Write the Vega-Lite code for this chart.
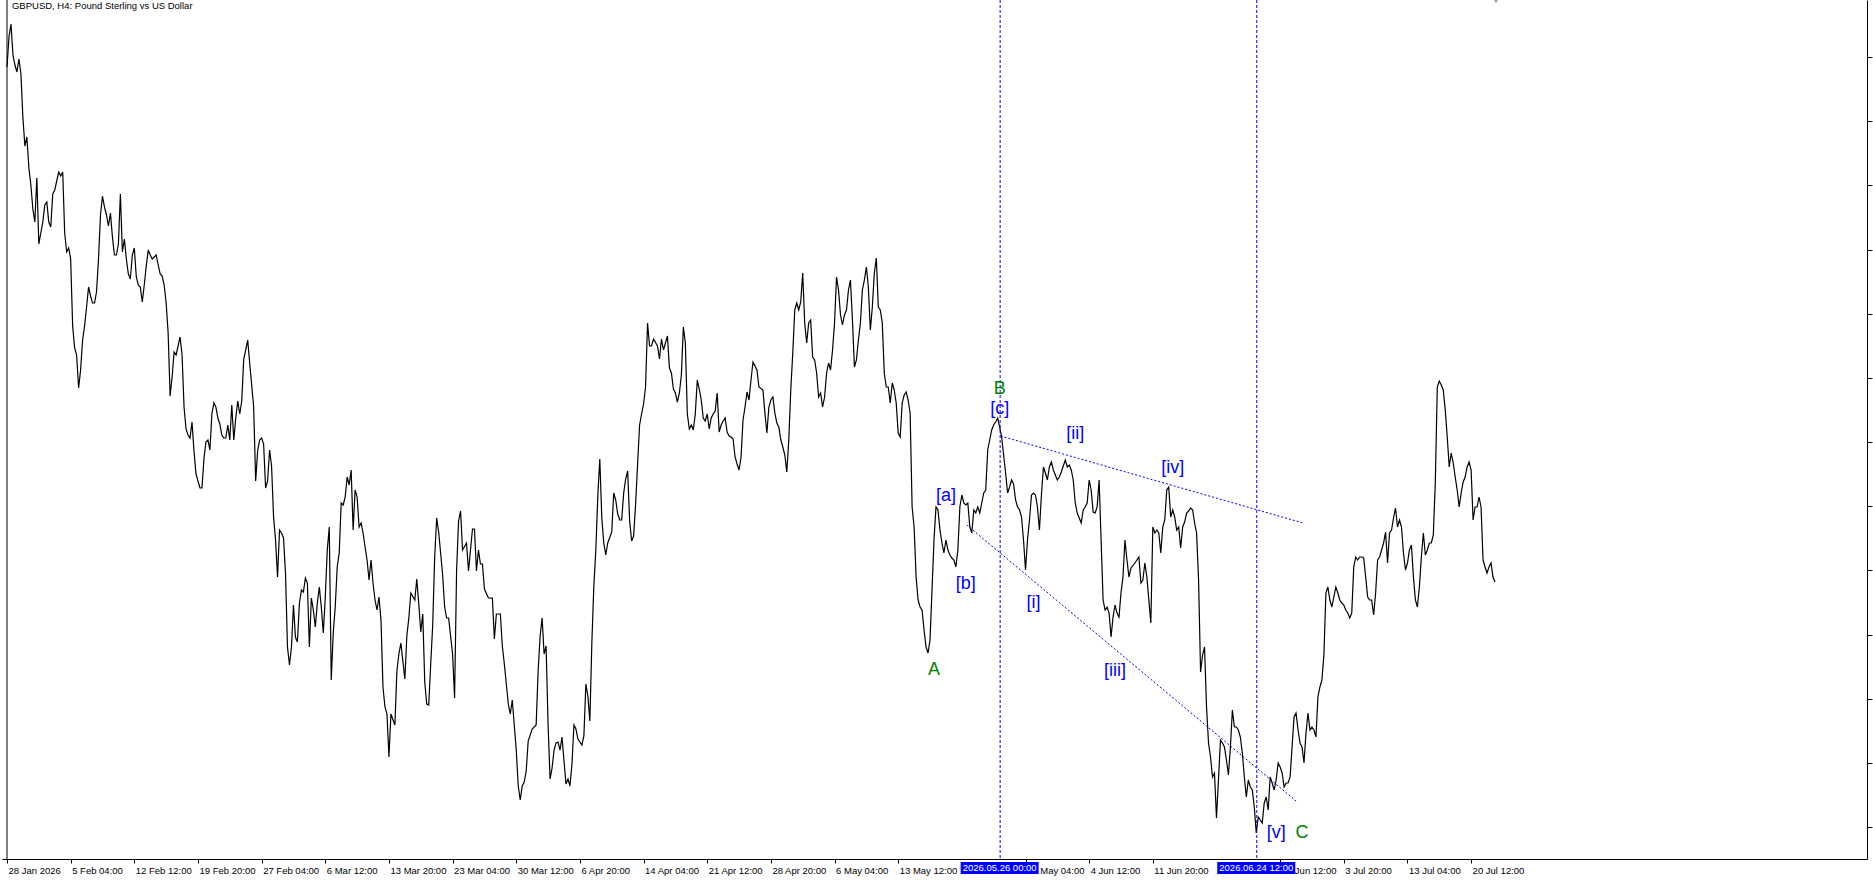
{
"$schema": "https://vega.github.io/schema/vega-lite/v6.json",
"width": 1865,
"height": 859,
"autosize": {"type": "none"},
"padding": {"left": 2, "top": 0, "right": 6, "bottom": 21},
"background": "white",
"config": {"view": {"stroke": null}, "font": "Liberation Sans"},
"datasets": {
"price": [
{"i":0,"p":1.3933},{"i":1,"p":1.3963},{"i":2,"p":1.3976},{"i":3,"p":1.3945},{"i":4,"p":1.3935},{"i":5,"p":1.3928},{"i":6,"p":1.3941},{"i":7,"p":1.3926},{"i":8,"p":1.3882},{"i":9,"p":1.3854},
{"i":10,"p":1.3863},{"i":11,"p":1.3832},{"i":12,"p":1.3815},{"i":13,"p":1.3791},{"i":14,"p":1.3778},{"i":15,"p":1.3822},{"i":16,"p":1.3756},{"i":17,"p":1.3767},{"i":18,"p":1.3778},{"i":19,"p":1.3795},
{"i":20,"p":1.3798},{"i":21,"p":1.3778},{"i":22,"p":1.3773},{"i":23,"p":1.3806},{"i":24,"p":1.381},{"i":25,"p":1.3819},{"i":26,"p":1.3828},{"i":27,"p":1.3824},{"i":28,"p":1.3828},{"i":29,"p":1.3767},
{"i":30,"p":1.3748},{"i":31,"p":1.3752},{"i":32,"p":1.3741},{"i":33,"p":1.3674},{"i":34,"p":1.3652},{"i":35,"p":1.3645},{"i":36,"p":1.3612},{"i":37,"p":1.363},{"i":38,"p":1.366},{"i":39,"p":1.3674},
{"i":40,"p":1.3693},{"i":41,"p":1.3713},{"i":42,"p":1.3704},{"i":43,"p":1.3697},{"i":44,"p":1.3697},{"i":45,"p":1.3708},{"i":46,"p":1.3741},{"i":47,"p":1.3785},{"i":48,"p":1.3804},{"i":49,"p":1.3793},
{"i":50,"p":1.3785},{"i":51,"p":1.3774},{"i":52,"p":1.3787},{"i":53,"p":1.3763},{"i":54,"p":1.3745},{"i":55,"p":1.3745},{"i":56,"p":1.3756},{"i":57,"p":1.3806},{"i":58,"p":1.3748},{"i":59,"p":1.3761},
{"i":60,"p":1.3741},{"i":61,"p":1.3726},{"i":62,"p":1.3721},{"i":63,"p":1.3745},{"i":64,"p":1.3752},{"i":65,"p":1.3723},{"i":66,"p":1.3715},{"i":67,"p":1.3713},{"i":68,"p":1.3698},{"i":69,"p":1.3715},
{"i":70,"p":1.3734},{"i":71,"p":1.375},{"i":72,"p":1.3745},{"i":73,"p":1.3741},{"i":74,"p":1.3743},{"i":75,"p":1.3745},{"i":76,"p":1.3735},{"i":77,"p":1.3726},{"i":78,"p":1.3724},{"i":79,"p":1.3715},
{"i":80,"p":1.3697},{"i":81,"p":1.3667},{"i":82,"p":1.3604},{"i":83,"p":1.3623},{"i":84,"p":1.3648},{"i":85,"p":1.3645},{"i":86,"p":1.3654},{"i":87,"p":1.3663},{"i":88,"p":1.3645},{"i":89,"p":1.3593},
{"i":90,"p":1.3571},{"i":91,"p":1.3565},{"i":92,"p":1.3562},{"i":93,"p":1.3578},{"i":94,"p":1.3549},{"i":95,"p":1.3526},{"i":96,"p":1.3519},{"i":97,"p":1.3512},{"i":98,"p":1.3512},{"i":99,"p":1.3541},
{"i":100,"p":1.3558},{"i":101,"p":1.356},{"i":102,"p":1.355},{"i":103,"p":1.3586},{"i":104,"p":1.3597},{"i":105,"p":1.3593},{"i":106,"p":1.3582},{"i":107,"p":1.3576},{"i":108,"p":1.3565},{"i":109,"p":1.3562},
{"i":110,"p":1.3562},{"i":111,"p":1.3575},{"i":112,"p":1.356},{"i":113,"p":1.3595},{"i":114,"p":1.356},{"i":115,"p":1.3582},{"i":116,"p":1.3599},{"i":117,"p":1.3586},{"i":118,"p":1.3599},{"i":119,"p":1.3641},
{"i":120,"p":1.365},{"i":121,"p":1.366},{"i":122,"p":1.3637},{"i":123,"p":1.3615},{"i":124,"p":1.3593},{"i":125,"p":1.3519},{"i":126,"p":1.3549},{"i":127,"p":1.356},{"i":128,"p":1.3562},{"i":129,"p":1.3556},
{"i":130,"p":1.3512},{"i":131,"p":1.3519},{"i":132,"p":1.355},{"i":133,"p":1.3534},{"i":134,"p":1.3483},{"i":135,"p":1.346},{"i":136,"p":1.3423},{"i":137,"p":1.347},{"i":138,"p":1.3467},{"i":139,"p":1.3462},
{"i":140,"p":1.3427},{"i":141,"p":1.3353},{"i":142,"p":1.3335},{"i":143,"p":1.3353},{"i":144,"p":1.3395},{"i":145,"p":1.3363},{"i":146,"p":1.3358},{"i":147,"p":1.3397},{"i":148,"p":1.341},{"i":149,"p":1.3408},
{"i":150,"p":1.3422},{"i":151,"p":1.3417},{"i":152,"p":1.3353},{"i":153,"p":1.3402},{"i":154,"p":1.339},{"i":155,"p":1.3373},{"i":156,"p":1.3397},{"i":157,"p":1.3413},{"i":158,"p":1.3393},{"i":159,"p":1.3367},
{"i":160,"p":1.3403},{"i":161,"p":1.345},{"i":162,"p":1.3473},{"i":163,"p":1.332},{"i":164,"p":1.3367},{"i":165,"p":1.3393},{"i":166,"p":1.3433},{"i":167,"p":1.3447},{"i":168,"p":1.3497},{"i":169,"p":1.3495},
{"i":170,"p":1.3503},{"i":171,"p":1.3523},{"i":172,"p":1.3515},{"i":173,"p":1.353},{"i":174,"p":1.347},{"i":175,"p":1.351},{"i":176,"p":1.3503},{"i":177,"p":1.3473},{"i":178,"p":1.3477},{"i":179,"p":1.3467},
{"i":180,"p":1.3453},{"i":181,"p":1.344},{"i":182,"p":1.342},{"i":183,"p":1.344},{"i":184,"p":1.3417},{"i":185,"p":1.34},{"i":186,"p":1.339},{"i":187,"p":1.3403},{"i":188,"p":1.338},{"i":189,"p":1.3313},
{"i":190,"p":1.3293},{"i":191,"p":1.3286},{"i":192,"p":1.3243},{"i":193,"p":1.3286},{"i":195,"p":1.3275},{"i":196,"p":1.3329},{"i":197,"p":1.3346},{"i":198,"p":1.3357},
{"i":200,"p":1.3321},{"i":201,"p":1.3364},{"i":202,"p":1.3382},{"i":203,"p":1.3407},{"i":205,"p":1.34},{"i":206,"p":1.3421},{"i":207,"p":1.3396},{"i":208,"p":1.3368},{"i":209,"p":1.3386},
{"i":210,"p":1.3318},{"i":211,"p":1.3296},{"i":212,"p":1.3295},{"i":213,"p":1.3336},{"i":214,"p":1.3375},{"i":215,"p":1.3443},{"i":216,"p":1.3482},{"i":217,"p":1.3468},{"i":219,"p":1.3425},
{"i":220,"p":1.3393},{"i":221,"p":1.3382},{"i":222,"p":1.3382},{"i":224,"p":1.3346},{"i":225,"p":1.3302},{"i":226,"p":1.3429},{"i":227,"p":1.3479},{"i":228,"p":1.3489},{"i":229,"p":1.345},
{"i":231,"p":1.3457},{"i":232,"p":1.3429},{"i":233,"p":1.345},{"i":234,"p":1.3471},{"i":235,"p":1.3471},{"i":236,"p":1.3429},{"i":237,"p":1.345},{"i":238,"p":1.3436},{"i":239,"p":1.3436},
{"i":240,"p":1.3411},{"i":242,"p":1.3402},{"i":244,"p":1.3402},{"i":245,"p":1.3361},{"i":246,"p":1.3386},{"i":248,"p":1.3386},{"i":249,"p":1.3354},
{"i":250,"p":1.3336},{"i":252,"p":1.3296},{"i":253,"p":1.3286},{"i":254,"p":1.33},{"i":255,"p":1.3275},{"i":256,"p":1.325},{"i":257,"p":1.3214},{"i":258,"p":1.32},{"i":259,"p":1.3214},
{"i":260,"p":1.3218},{"i":261,"p":1.3229},{"i":262,"p":1.3259},{"i":264,"p":1.3271},{"i":266,"p":1.3275},{"i":267,"p":1.3329},{"i":268,"p":1.3364},{"i":269,"p":1.3382},
{"i":270,"p":1.3346},{"i":271,"p":1.3354},{"i":272,"p":1.3275},{"i":273,"p":1.3221},{"i":274,"p":1.3232},{"i":275,"p":1.325},{"i":276,"p":1.3257},{"i":277,"p":1.3258},{"i":278,"p":1.325},{"i":279,"p":1.3263},
{"i":280,"p":1.3239},{"i":281,"p":1.3216},{"i":282,"p":1.3221},{"i":283,"p":1.3214},{"i":284,"p":1.3236},{"i":285,"p":1.3275},{"i":286,"p":1.3271},{"i":287,"p":1.3261},{"i":289,"p":1.3255},
{"i":290,"p":1.3264},{"i":291,"p":1.3316},{"i":292,"p":1.3304},{"i":293,"p":1.3279},{"i":294,"p":1.3357},{"i":295,"p":1.3414},{"i":296,"p":1.345},{"i":297,"p":1.3504},{"i":298,"p":1.3541},{"i":299,"p":1.3482},
{"i":300,"p":1.3457},{"i":301,"p":1.3445},{"i":302,"p":1.3457},{"i":304,"p":1.3468},{"i":305,"p":1.3507},{"i":306,"p":1.35},{"i":307,"p":1.3486},{"i":308,"p":1.348},{"i":309,"p":1.348},
{"i":310,"p":1.3507},{"i":311,"p":1.3521},{"i":312,"p":1.3529},{"i":313,"p":1.3479},{"i":314,"p":1.3459},{"i":315,"p":1.3464},{"i":316,"p":1.3496},{"i":317,"p":1.3536},{"i":318,"p":1.3575},{"i":319,"p":1.3586},
{"i":320,"p":1.3596},{"i":321,"p":1.3613},{"i":322,"p":1.3677},{"i":323,"p":1.3654},{"i":324,"p":1.3654},{"i":325,"p":1.3661},{"i":327,"p":1.3654},{"i":328,"p":1.3641},{"i":329,"p":1.3661},
{"i":330,"p":1.365},{"i":332,"p":1.3664},{"i":333,"p":1.3632},{"i":334,"p":1.3627},{"i":335,"p":1.3611},{"i":336,"p":1.3607},{"i":337,"p":1.3598},{"i":338,"p":1.3607},{"i":339,"p":1.3625},
{"i":340,"p":1.3673},{"i":341,"p":1.3657},{"i":342,"p":1.3586},{"i":343,"p":1.3571},{"i":344,"p":1.3575},{"i":345,"p":1.357},{"i":346,"p":1.3586},{"i":347,"p":1.362},{"i":348,"p":1.3611},{"i":349,"p":1.36},
{"i":350,"p":1.3582},{"i":351,"p":1.3579},{"i":352,"p":1.3586},{"i":353,"p":1.3571},{"i":354,"p":1.3582},{"i":355,"p":1.3586},{"i":356,"p":1.3589},{"i":357,"p":1.3607},{"i":358,"p":1.3568},{"i":359,"p":1.3575},
{"i":360,"p":1.3579},{"i":361,"p":1.3582},{"i":362,"p":1.3568},{"i":363,"p":1.3564},{"i":364,"p":1.3563},{"i":365,"p":1.3561},{"i":366,"p":1.3543},{"i":367,"p":1.3536},{"i":368,"p":1.353},{"i":369,"p":1.3543},
{"i":370,"p":1.358},{"i":371,"p":1.3593},{"i":372,"p":1.3608},{"i":373,"p":1.36},{"i":374,"p":1.362},{"i":375,"p":1.3638},{"i":377,"p":1.363},{"i":378,"p":1.3613},
{"i":380,"p":1.361},{"i":381,"p":1.3587},{"i":382,"p":1.3567},{"i":383,"p":1.3593},{"i":384,"p":1.36},{"i":385,"p":1.3603},{"i":386,"p":1.3587},{"i":387,"p":1.3577},{"i":388,"p":1.3573},{"i":389,"p":1.356},
{"i":390,"p":1.3553},{"i":391,"p":1.3545},{"i":392,"p":1.3528},{"i":393,"p":1.356},{"i":394,"p":1.361},{"i":395,"p":1.3647},{"i":396,"p":1.369},{"i":397,"p":1.3697},{"i":398,"p":1.369},{"i":399,"p":1.3698},
{"i":400,"p":1.3727},{"i":401,"p":1.3677},{"i":402,"p":1.3657},{"i":403,"p":1.3677},{"i":404,"p":1.368},{"i":405,"p":1.3643},{"i":406,"p":1.364},{"i":407,"p":1.3627},{"i":408,"p":1.3603},{"i":409,"p":1.3607},
{"i":410,"p":1.3593},{"i":411,"p":1.3603},{"i":412,"p":1.3627},{"i":413,"p":1.3637},{"i":414,"p":1.363},{"i":415,"p":1.365},{"i":416,"p":1.3677},{"i":417,"p":1.3723},{"i":418,"p":1.371},{"i":419,"p":1.3685},
{"i":420,"p":1.3675},{"i":421,"p":1.3685},{"i":422,"p":1.369},{"i":423,"p":1.371},{"i":424,"p":1.372},{"i":425,"p":1.368},{"i":426,"p":1.3633},{"i":427,"p":1.364},{"i":428,"p":1.366},{"i":429,"p":1.3677},
{"i":430,"p":1.371},{"i":431,"p":1.372},{"i":432,"p":1.3733},{"i":433,"p":1.3713},{"i":434,"p":1.367},{"i":435,"p":1.3693},{"i":436,"p":1.3727},{"i":437,"p":1.3742},{"i":438,"p":1.3693},{"i":439,"p":1.369},
{"i":440,"p":1.3677},{"i":441,"p":1.3627},{"i":442,"p":1.3613},{"i":443,"p":1.3613},{"i":444,"p":1.3597},{"i":445,"p":1.3617},{"i":446,"p":1.361},{"i":447,"p":1.3597},{"i":448,"p":1.3567},{"i":449,"p":1.3563},
{"i":450,"p":1.3597},{"i":451,"p":1.3605},{"i":452,"p":1.3608},{"i":453,"p":1.36},{"i":454,"p":1.3587},{"i":455,"p":1.3493},{"i":456,"p":1.3473},{"i":457,"p":1.3423},{"i":458,"p":1.34},{"i":459,"p":1.3393},
{"i":460,"p":1.339},{"i":461,"p":1.337},{"i":462,"p":1.3353},{"i":463,"p":1.3347},{"i":464,"p":1.336},{"i":465,"p":1.341},{"i":466,"p":1.346},{"i":467,"p":1.3493},{"i":468,"p":1.349},{"i":469,"p":1.347},
{"i":470,"p":1.3457},{"i":471,"p":1.3447},{"i":472,"p":1.346},{"i":473,"p":1.345},{"i":474,"p":1.3445},{"i":475,"p":1.3442},{"i":476,"p":1.344},{"i":477,"p":1.3433},{"i":478,"p":1.345},{"i":479,"p":1.3493},
{"i":480,"p":1.3505},{"i":481,"p":1.3497},{"i":482,"p":1.3495},{"i":483,"p":1.3497},{"i":484,"p":1.3473},{"i":485,"p":1.3467},{"i":486,"p":1.349},{"i":487,"p":1.3487},{"i":488,"p":1.3493},{"i":489,"p":1.3487},
{"i":490,"p":1.3497},{"i":491,"p":1.3507},{"i":492,"p":1.351},{"i":493,"p":1.355},{"i":494,"p":1.356},{"i":495,"p":1.357},{"i":496,"p":1.3575},{"i":497,"p":1.3578},{"i":498,"p":1.3582},{"i":499,"p":1.3573},
{"i":500,"p":1.3563},{"i":501,"p":1.3545},{"i":502,"p":1.3527},{"i":503,"p":1.3507},{"i":504,"p":1.3513},{"i":505,"p":1.352},{"i":506,"p":1.3516},{"i":507,"p":1.35},{"i":508,"p":1.3493},{"i":509,"p":1.349},
{"i":510,"p":1.3483},{"i":511,"p":1.346},{"i":512,"p":1.343},{"i":513,"p":1.346},{"i":514,"p":1.348},{"i":515,"p":1.3505},{"i":516,"p":1.3507},{"i":517,"p":1.3505},{"i":518,"p":1.3493},{"i":519,"p":1.347},
{"i":520,"p":1.3505},{"i":521,"p":1.3533},{"i":522,"p":1.3527},{"i":523,"p":1.352},{"i":524,"p":1.3533},{"i":525,"p":1.3538},{"i":526,"p":1.353},{"i":527,"p":1.3525},{"i":528,"p":1.352},{"i":529,"p":1.3523},
{"i":530,"p":1.3528},{"i":531,"p":1.3534},{"i":532,"p":1.354},{"i":533,"p":1.3533},{"i":534,"p":1.3535},{"i":535,"p":1.353},{"i":536,"p":1.352},{"i":537,"p":1.3497},{"i":538,"p":1.3487},{"i":539,"p":1.3482},
{"i":540,"p":1.3477},{"i":541,"p":1.349},{"i":542,"p":1.3493},{"i":543,"p":1.3497},{"i":544,"p":1.352},{"i":545,"p":1.351},{"i":546,"p":1.3488},{"i":547,"p":1.3487},{"i":548,"p":1.3493},{"i":549,"p":1.352},
{"i":550,"p":1.346},{"i":551,"p":1.34},{"i":552,"p":1.339},{"i":553,"p":1.3393},{"i":554,"p":1.3387},{"i":555,"p":1.3363},{"i":556,"p":1.3383},{"i":557,"p":1.3395},{"i":558,"p":1.3387},{"i":559,"p":1.3383},
{"i":560,"p":1.3407},{"i":561,"p":1.3423},{"i":562,"p":1.346},{"i":563,"p":1.344},{"i":564,"p":1.3423},{"i":565,"p":1.3432},{"i":567,"p":1.3437},{"i":568,"p":1.344},{"i":569,"p":1.3443},
{"i":570,"p":1.3417},{"i":571,"p":1.342},{"i":572,"p":1.3437},{"i":573,"p":1.3423},{"i":574,"p":1.34},{"i":575,"p":1.3377},{"i":576,"p":1.3473},{"i":577,"p":1.3467},{"i":578,"p":1.347},{"i":579,"p":1.3467},
{"i":580,"p":1.3447},{"i":581,"p":1.3473},{"i":582,"p":1.348},{"i":583,"p":1.351},{"i":584,"p":1.3513},{"i":585,"p":1.3483},{"i":586,"p":1.349},{"i":587,"p":1.3483},{"i":588,"p":1.347},{"i":589,"p":1.3473},
{"i":590,"p":1.3452},{"i":591,"p":1.3473},{"i":592,"p":1.3478},{"i":593,"p":1.3487},{"i":594,"p":1.3489},{"i":595,"p":1.3492},{"i":596,"p":1.349},{"i":597,"p":1.3477},{"i":598,"p":1.3467},{"i":599,"p":1.342},
{"i":600,"p":1.3328},{"i":601,"p":1.3345},{"i":602,"p":1.3353},{"i":603,"p":1.3293},{"i":604,"p":1.3257},{"i":605,"p":1.3243},{"i":606,"p":1.3223},{"i":607,"p":1.3227},{"i":608,"p":1.3182},{"i":609,"p":1.322},
{"i":610,"p":1.326},{"i":611,"p":1.3257},{"i":612,"p":1.3253},{"i":613,"p":1.324},{"i":614,"p":1.3225},{"i":615,"p":1.3253},{"i":616,"p":1.329},{"i":617,"p":1.3273},{"i":618,"p":1.3273},{"i":619,"p":1.327},
{"i":620,"p":1.3263},{"i":621,"p":1.3247},{"i":622,"p":1.3223},{"i":623,"p":1.3203},{"i":624,"p":1.322},{"i":625,"p":1.3213},{"i":626,"p":1.321},{"i":627,"p":1.3193},{"i":628,"p":1.3167},{"i":629,"p":1.3183},
{"i":630,"p":1.318},{"i":631,"p":1.3177},{"i":632,"p":1.3197},{"i":633,"p":1.3203},{"i":634,"p":1.319},{"i":635,"p":1.3223},{"i":636,"p":1.3217},{"i":637,"p":1.321},{"i":638,"p":1.322},{"i":639,"p":1.3237},
{"i":640,"p":1.3233},{"i":641,"p":1.3227},{"i":642,"p":1.3213},{"i":643,"p":1.3217},{"i":644,"p":1.3217},{"i":645,"p":1.3223},{"i":646,"p":1.3253},{"i":647,"p":1.3283},{"i":648,"p":1.3287},{"i":649,"p":1.327},
{"i":650,"p":1.3257},{"i":651,"p":1.3253},{"i":652,"p":1.3237},{"i":653,"p":1.3267},{"i":654,"p":1.3287},{"i":655,"p":1.327},{"i":656,"p":1.3273},{"i":657,"p":1.327},{"i":658,"p":1.3263},{"i":659,"p":1.3303},
{"i":660,"p":1.3313},{"i":661,"p":1.332},{"i":662,"p":1.3345},{"i":663,"p":1.3407},{"i":664,"p":1.3413},{"i":665,"p":1.34},{"i":666,"p":1.3393},{"i":667,"p":1.3403},{"i":668,"p":1.3413},{"i":669,"p":1.3407},
{"i":670,"p":1.34},{"i":671,"p":1.3397},{"i":672,"p":1.3395},{"i":673,"p":1.339},{"i":674,"p":1.3387},{"i":675,"p":1.3382},{"i":676,"p":1.3387},{"i":677,"p":1.3433},{"i":678,"p":1.3443},{"i":679,"p":1.344},
{"i":680,"p":1.3443},{"i":681,"p":1.3443},{"i":682,"p":1.3442},{"i":683,"p":1.3423},{"i":684,"p":1.3403},{"i":685,"p":1.34},{"i":686,"p":1.34},{"i":687,"p":1.3385},{"i":688,"p":1.3407},{"i":689,"p":1.344},
{"i":690,"p":1.3443},{"i":691,"p":1.345},{"i":692,"p":1.3457},{"i":693,"p":1.3468},{"i":694,"p":1.3437},{"i":695,"p":1.3467},{"i":696,"p":1.347},{"i":697,"p":1.3482},{"i":698,"p":1.3492},{"i":699,"p":1.3473},
{"i":700,"p":1.348},{"i":701,"p":1.3473},{"i":702,"p":1.3447},{"i":703,"p":1.343},{"i":704,"p":1.3437},{"i":705,"p":1.345},{"i":706,"p":1.3455},{"i":707,"p":1.3423},{"i":708,"p":1.34},{"i":709,"p":1.3393},
{"i":710,"p":1.3413},{"i":711,"p":1.3443},{"i":712,"p":1.3467},{"i":713,"p":1.3445},{"i":714,"p":1.345},{"i":715,"p":1.3457},{"i":716,"p":1.3457},{"i":717,"p":1.3465},{"i":718,"p":1.3517},{"i":719,"p":1.3613},
{"i":720,"p":1.3619},{"i":721,"p":1.3615},{"i":722,"p":1.361},{"i":723,"p":1.359},{"i":724,"p":1.3563},{"i":725,"p":1.3533},{"i":726,"p":1.3547},{"i":727,"p":1.3537},{"i":728,"p":1.3523},{"i":729,"p":1.351},
{"i":730,"p":1.3493},{"i":731,"p":1.3507},{"i":732,"p":1.3518},{"i":733,"p":1.3523},{"i":734,"p":1.3533},{"i":735,"p":1.3538},{"i":736,"p":1.353},{"i":737,"p":1.348},{"i":738,"p":1.3493},{"i":739,"p":1.3493},
{"i":740,"p":1.3503},{"i":741,"p":1.3493},{"i":742,"p":1.344},{"i":743,"p":1.3433},{"i":744,"p":1.3427},{"i":745,"p":1.3433},{"i":746,"p":1.3437},{"i":747,"p":1.3423},{"i":748,"p":1.3418}
],
"waves": [
{"i":466,"p":1.333,"t":"A","g":"major"},
{"i":499,"p":1.3611,"t":"B","g":"major"},
{"i":651,"p":1.3167,"t":"C","g":"major"},
{"i":472,"p":1.3504,"t":"[a]","g":"minor"},
{"i":482,"p":1.3416,"t":"[b]","g":"minor"},
{"i":499,"p":1.3591,"t":"[c]","g":"minor"},
{"i":516,"p":1.3397,"t":"[i]","g":"minor"},
{"i":537,"p":1.3566,"t":"[ii]","g":"minor"},
{"i":557,"p":1.3329,"t":"[iii]","g":"minor"},
{"i":586,"p":1.3532,"t":"[iv]","g":"minor"},
{"i":638,"p":1.3167,"t":"[v]","g":"minor"}
],
"trend": [
{"i":499.5,"p":1.3564,"i2":651.5,"p2":1.3477},
{"i":482.5,"p":1.3475,"i2":648,"p2":1.3199}
],
"vlines": [
{"i":499,"label":"2026.05.26 00:00"},
{"i":628,"label":"2026.06.24 12:00"}
],
"header": [
{"i":2.5,"p":1.4,"label":"GBPUSD, H4:  Pound Sterling vs US Dollar"}
],
"shift": [
{"i":748.5,"p":1.4}
]
},
"layer": [
{
"data": {"name": "price"},
"mark": {"type": "line", "color": "black", "strokeWidth": 1.2},
"encoding": {
"x": {"field": "i", "type": "quantitative", "title": null,
"scale": {"domain": [0, 932.5], "nice": false, "zero": false},
"axis": {"orient": "bottom", "values": [0,32,64,96,128,160,192,224,256,288,320,352,384,416,448,512,544,576,640,672,704,736],
"labelExpr": "['28 Jan 2026','5 Feb 04:00','12 Feb 12:00','19 Feb 20:00','27 Feb 04:00','6 Mar 12:00','13 Mar 20:00','23 Mar 04:00','30 Mar 12:00','6 Apr 20:00','14 Apr 04:00','21 Apr 12:00','28 Apr 20:00','6 May 04:00','13 May 12:00','20 May 20:00','28 May 04:00','4 Jun 12:00','11 Jun 20:00','19 Jun 04:00','26 Jun 12:00','3 Jul 20:00','13 Jul 04:00','20 Jul 12:00'][round(datum.value/32)]",
"grid": false, "domainColor": "black", "tickColor": "black", "tickSize": 4, "labelColor": "black",
"labelFont": "Liberation Sans", "labelFontSize": 9.5, "labelAlign": "left", "labelOffset": 1, "labelPadding": 2,
"labelOverlap": false, "labelFlush": false, "labelBound": false, "title": null}},
"y": {"field": "p", "type": "quantitative", "title": null,
"scale": {"domain": [1.3141, 1.4], "nice": false, "zero": false},
"axis": {"orient": "right", "values": [1.3975,1.39429,1.39108,1.38788,1.38467,1.38146,1.37825,1.37504,1.37184,1.36863,1.36542,1.36221,1.359,1.3558,1.35259,1.34938,1.34617,1.34296,1.33976,1.33655,1.33334,1.33013,1.32692,1.32372,1.32051,1.3173],
"labels": false, "grid": false, "domainColor": "black", "tickColor": "black", "tickSize": 5, "title": null}}
}
},
{
"data": {"name": "shift"},
"mark": {"type": "rule", "color": "black", "strokeWidth": 1},
"encoding": {"x": {"datum": 0}}
},
{
"data": {"name": "trend"},
"mark": {"type": "rule", "color": "#0000FF", "strokeWidth": 1, "strokeDash": [2, 2]},
"encoding": {
"x": {"field": "i", "type": "quantitative", "title": null},
"y": {"field": "p", "type": "quantitative", "title": null},
"x2": {"field": "i2"},
"y2": {"field": "p2"}
}
},
{
"data": {"name": "vlines"},
"mark": {"type": "rule", "color": "#0000FF", "strokeWidth": 1, "strokeDash": [3, 2], "xOffset": 0.5},
"encoding": {"x": {"field": "i", "type": "quantitative", "title": null}}
},
{
"data": {"name": "waves"},
"mark": {"type": "text", "font": "Liberation Sans", "fontSize": 18, "align": "center", "baseline": "middle"},
"encoding": {
"x": {"field": "i", "type": "quantitative", "title": null},
"y": {"field": "p", "type": "quantitative", "title": null},
"text": {"field": "t"},
"color": {"field": "g", "type": "nominal", "scale": {"domain": ["major", "minor"], "range": ["#008000", "#0000FF"]}, "legend": null}
}
},
{
"data": {"name": "vlines"},
"mark": {"type": "bar", "color": "#0000FF", "width": 78},
"encoding": {
"x": {"field": "i", "type": "quantitative", "title": null},
"y": {"datum": 1.3138},
"y2": {"datum": 1.3126}
}
},
{
"data": {"name": "vlines"},
"mark": {"type": "text", "color": "white", "font": "Liberation Sans", "fontSize": 9.5, "align": "center", "baseline": "middle"},
"encoding": {
"x": {"field": "i", "type": "quantitative", "title": null},
"y": {"datum": 1.3132},
"text": {"field": "label"}
}
},
{
"data": {"name": "header"},
"mark": {"type": "text", "color": "black", "font": "Liberation Sans", "fontSize": 9.5, "align": "left", "baseline": "top", "dy": 1},
"encoding": {
"x": {"field": "i", "type": "quantitative", "title": null},
"y": {"field": "p", "type": "quantitative", "title": null},
"text": {"field": "label"}
}
},
{
"data": {"name": "shift"},
"mark": {"type": "point", "shape": "triangle-down", "filled": true, "color": "#A0A0A0", "opacity": 1, "size": 60},
"encoding": {
"x": {"field": "i", "type": "quantitative", "title": null},
"y": {"field": "p", "type": "quantitative", "title": null}
}
}
]
}
